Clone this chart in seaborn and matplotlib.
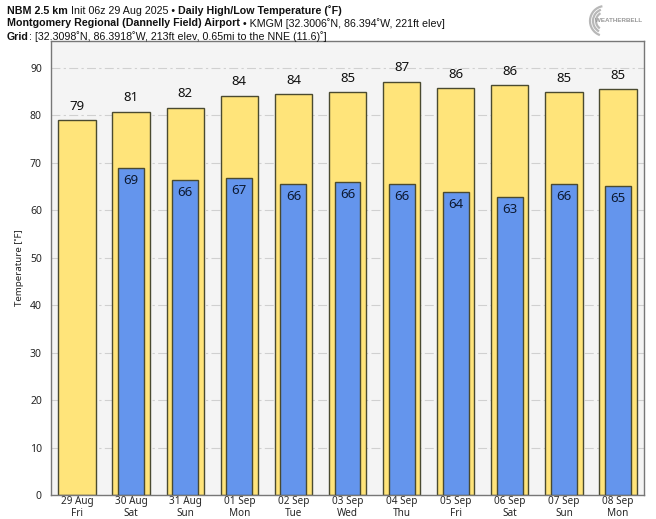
import numpy as np
import pandas as pd
import matplotlib
matplotlib.use('Agg')
import matplotlib.pyplot as plt
import seaborn as sns
from matplotlib.patches import Arc

# data
days = ['29 Aug\nFri', '30 Aug\nSat', '31 Aug\nSun', '01 Sep\nMon', '02 Sep\nTue',
        '03 Sep\nWed', '04 Sep\nThu', '05 Sep\nFri', '06 Sep\nSat', '07 Sep\nSun',
        '08 Sep\nMon']
highs = [78.9, 80.7, 81.5, 84.1, 84.4, 84.8, 87.0, 85.6, 86.3, 84.8, 85.4]
lows = [np.nan, 68.8, 66.3, 66.7, 65.5, 65.9, 65.5, 63.8, 62.7, 65.5, 65.0]

sns.set_style('white')
plt.rcParams['font.family'] = ['Noto Sans', 'DejaVu Sans']

df = pd.DataFrame({'day': days, 'high': highs, 'low': lows})

fig = plt.figure(figsize=(6.56, 5.19), dpi=100)
ax = fig.add_axes([51 / 656, 24 / 519, 593 / 656, 454 / 519])
ax.set_facecolor('#f4f4f4')

edge = '#4a4a30'
sns.barplot(data=df, x='day', y='high', color='#ffe47a', saturation=1, width=0.69,
            edgecolor=edge, linewidth=1.0, ax=ax, zorder=2)
sns.barplot(data=df, x='day', y='low', color='#6495ed', saturation=1, width=0.48,
            edgecolor=edge, linewidth=1.0, ax=ax, zorder=3)

for i, (h, l) in enumerate(zip(highs, lows)):
    ax.text(i, h + 1.6, f'{round(h)}', ha='center', va='bottom', fontsize=9.5, color='#111111', zorder=4)
    if not np.isnan(l):
        ax.text(i, l - 1.2, f'{round(l)}', ha='center', va='top', fontsize=9.5, color='#0d1a33', zorder=4)

ax.set_ylim(0, 95.6)
ax.set_xlim(-0.48, 10.48)
ax.set_yticks(range(0, 91, 10))
ax.grid(axis='y', color='#d0d0d0', linestyle=(0, (8, 3, 2, 3)), linewidth=0.8, zorder=0)
ax.set_axisbelow(True)
ax.set_xlabel('')
ax.set_ylabel('Temperature [˚F]', fontsize=7)
ax.tick_params(axis='y', labelsize=7.5, length=3, color='#555555')
ax.tick_params(axis='x', labelsize=7.2, length=0, pad=1)
for lbl in ax.get_xticklabels():
    lbl.set_linespacing(1.1)
for s in ax.spines.values():
    s.set_color('#777777')
    s.set_linewidth(1.0)

# header lines, mixed bold and regular
fig.canvas.draw()
renderer = fig.canvas.get_renderer()
lines = [
    [('NBM 2.5 km', 'bold'), (' Init 06z 29 Aug 2025 • ', 'normal'), ('Daily High/Low Temperature (˚F)', 'bold')],
    [('Montgomery Regional (Dannelly Field) Airport', 'bold'), (' • KMGM [32.3006˚N, 86.394˚W, 221ft elev]', 'normal')],
    [('Grid', 'bold'), (': [32.3098˚N, 86.3918˚W, 213ft elev, 0.65mi to the NNE (11.6)˚]', 'normal')],
]
hdr_font = ['Liberation Sans Narrow', 'Liberation Sans', 'DejaVu Sans']
y0 = 1 - 10.5 / 519
for k, parts in enumerate(lines):
    x = 7 / 656
    y = y0 - k * 13 / 519
    for txt, w in parts:
        t = fig.text(x, y, txt, fontsize=7.7, fontweight=w, family=hdr_font,
                     va='center', ha='left', color='#111111')
        bb = t.get_window_extent(renderer)
        x += bb.width / fig.bbox.width

# faint logo in the top right corner
lax = fig.add_axes([585 / 656, 1 - 38 / 519, 60 / 656, 34 / 519])
lax.set_xlim(0, 60)
lax.set_ylim(0, 34)
lax.axis('off')
for r, a1, a2 in [(15, 100, 250), (12, 110, 240), (9, 120, 235)]:
    lax.add_patch(Arc((20, 17), 2 * r, 2 * r, theta1=a1, theta2=a2, color='#b8b8b8', lw=1.6))
lax.text(34, 17, 'WEATHERBELL', fontsize=4.5, color='#999999', ha='center', va='center',
         fontweight='bold', family=hdr_font)

fig.savefig('out.png', dpi=100)
